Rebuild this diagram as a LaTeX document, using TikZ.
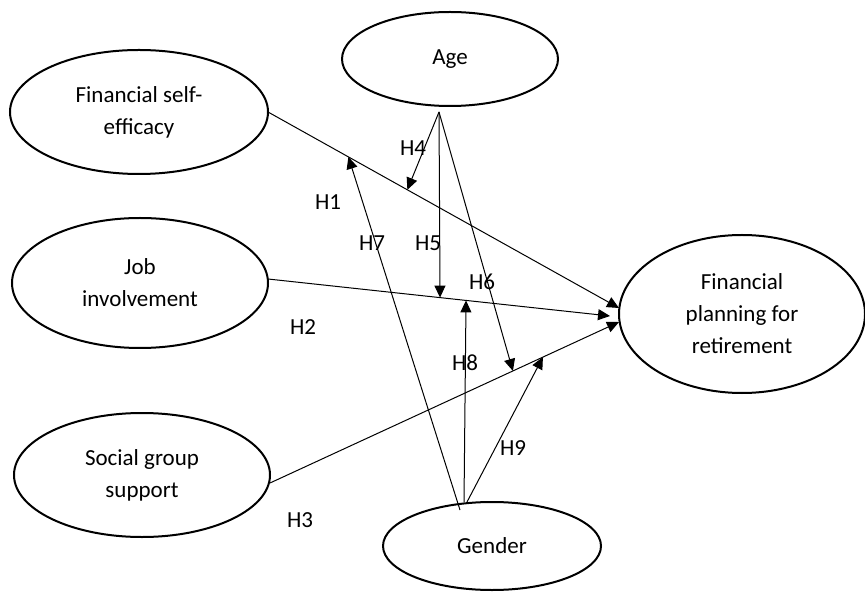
\documentclass[tikz,border=0pt]{standalone}
\usepackage{fontspec}
\setmainfont{Carlito}
\usetikzlibrary{calc, arrows.meta, shapes.geometric}

\begin{document}
\begin{tikzpicture}[x=0.5pt, y=-0.5pt,
        construct/.style={ellipse, draw, line width=1pt, inner sep=0pt, outer sep=0pt,
            align=center, font=\fontsize{11.5}{16}\selectfont},
        effect/.style={line width=0.5pt, arrows={-{Triangle[length=6pt, width=5.5pt]}}},
        hyp/.style={font=\fontsize{11.5}{14}\selectfont}]
        \useasboundingbox (0,0) rectangle (865,592);
        % constructs
        \node [construct, minimum width=129pt, minimum height=62pt] (finSelfEff) at (139,112) {Financial self-\\efficacy};
        \node [construct, minimum width=128pt, minimum height=65pt] (jobInv) at (140,283) {Job\\involvement};
        \node [construct, minimum width=128pt, minimum height=62pt] (socSupport) at (142,475) {Social group\\support};
        \node [construct, minimum width=108pt, minimum height=47pt] (age) at (450,59) {Age};
        \node [construct, minimum width=109pt, minimum height=44pt] (gender) at (492,546) {Gender};
        \node [construct, minimum width=123pt, minimum height=79pt] (finPlan) at (742,314) {Financial\\planning for\\retirement};
        % direct effects
        \coordinate (h1Tip) at ([yshift=3pt]finPlan.west);
        \coordinate (h2Tip) at ([shift={(-4.5pt,-1pt)}]finPlan.west);
        \coordinate (h3Tip) at ([yshift=-4pt]finPlan.west);
        \coordinate (h2Start) at ([yshift=2pt]jobInv.east);
        \coordinate (h3Start) at ([yshift=-4pt]socSupport.east);
        \draw [effect] (finSelfEff.east) -- (h1Tip);
        \draw [effect] (h2Start) -- (h2Tip);
        \draw [effect] (h3Start) -- (h3Tip);
        % moderation by age
        \coordinate (ageFoot) at ([shift={(-5.5pt,-3pt)}]age.south);
        \draw [effect] (ageFoot) -- ($(finSelfEff.east)!0.397!(h1Tip)$);
        \draw [effect] (ageFoot) -- ($(h2Start)!0.503!(h2Tip)$);
        \draw [effect] (ageFoot) -- ($(h3Start)!0.696!(h3Tip)$);
        % moderation by gender
        \coordinate (genderFoot) at ([xshift=-14pt]gender.north);
        \coordinate (genderFootLow) at ([shift={(-16pt,-4pt)}]gender.north);
        \draw [effect] (genderFootLow) -- ($(finSelfEff.east)!0.229!(h1Tip)$);
        \draw [effect] (genderFoot) -- ($(h2Start)!0.579!(h2Tip)$);
        \draw [effect] ([xshift=1.5pt]genderFoot) -- ($(h3Start)!0.782!(h3Tip)$);
        % hypotheses
        \node [hyp] (h1) at (328,202) {H1};
        \node [hyp] (h2) at (303,327) {H2};
        \node [hyp] (h3) at (300,520) {H3};
        \node [hyp] (h4) at (413,148) {H4};
        \node [hyp] (h5) at (428,243) {H5};
        \node [hyp] (h6) at (482,282) {H6};
        \node [hyp] (h7) at (372,243) {H7};
        \node [hyp] (h8) at (465,363) {H8};
        \node [hyp] (h9) at (513,448) {H9};
\end{tikzpicture}
\end{document}
